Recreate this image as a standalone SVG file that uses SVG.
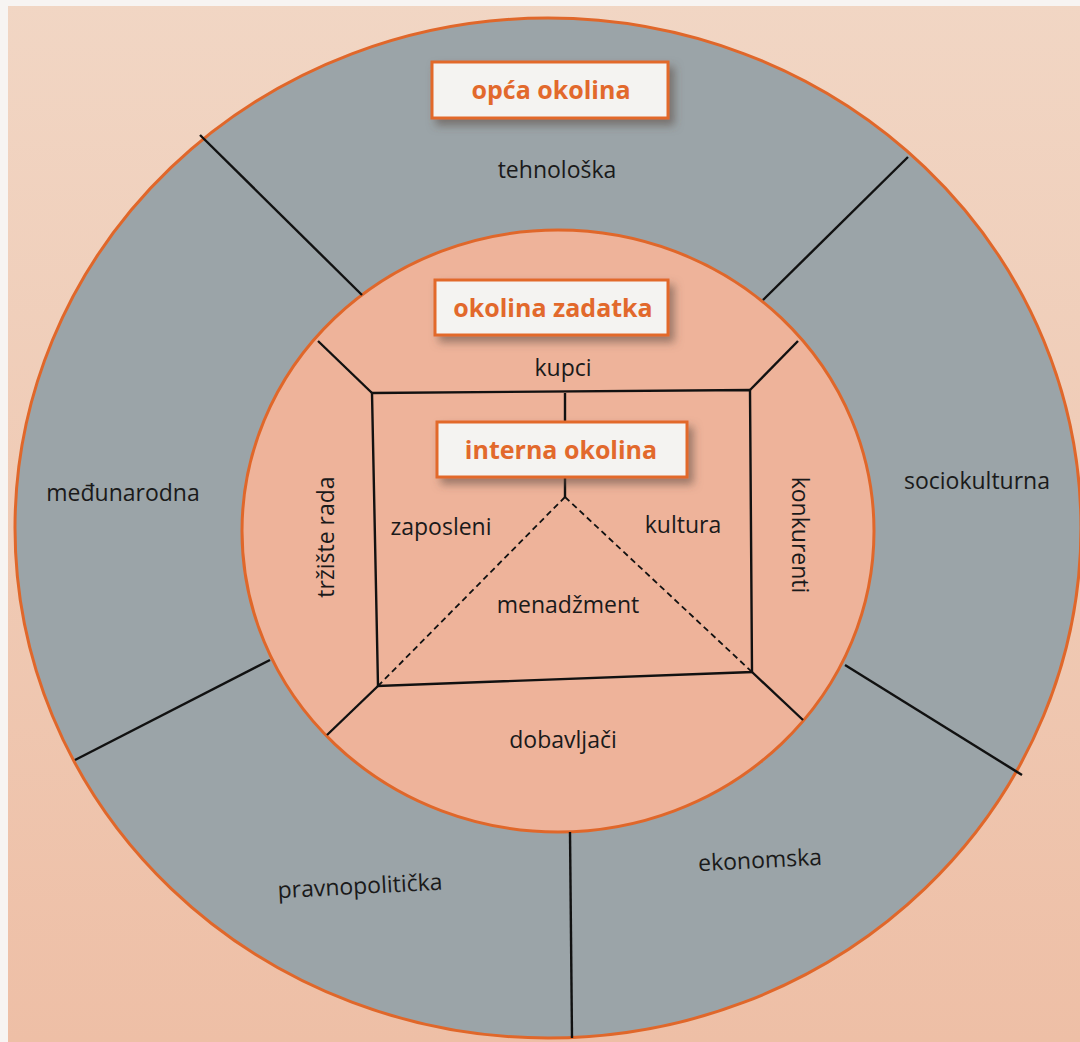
<svg xmlns="http://www.w3.org/2000/svg" width="1080" height="1042" viewBox="0 0 1080 1042">
<defs>
<filter id="sh" x="-20%" y="-30%" width="150%" height="180%">
<feDropShadow dx="5" dy="6" stdDeviation="4" flood-color="#5a4a40" flood-opacity="0.55"/>
</filter>
<linearGradient id="bg" x1="0" y1="0" x2="0" y2="1">
<stop offset="0" stop-color="#f1d6c4"/>
<stop offset="1" stop-color="#eebfa6"/>
</linearGradient>
</defs>
<style>
.ring{fill:#9ba4a8;stroke:#e0672a;stroke-width:3}
.inner{fill:#eeb39a;stroke:#e0672a;stroke-width:3}
.ln{stroke:#111;stroke-width:2.4;fill:none}
.dash{stroke:#111;stroke-width:1.8;fill:none;stroke-dasharray:6 4}
.box{fill:#f4f3f1;stroke:#e2692c;stroke-width:3;filter:url(#sh)}
.title{font-family:"Open Sans","Liberation Sans",sans-serif;font-weight:700;font-size:25px;fill:#e2692c;text-anchor:middle}
.t{font-family:"Open Sans","Liberation Sans",sans-serif;font-size:23px;fill:#1a1a1a;text-anchor:middle}
</style>
<rect x="0" y="0" width="1080" height="1042" fill="url(#bg)"/>
<rect x="0" y="0" width="1080" height="6" fill="#f7f4f2"/>
<rect x="0" y="0" width="8" height="1042" fill="#f7f4f2"/>

<g id="outer-ring"><ellipse class="ring" cx="548" cy="528" rx="533" ry="510"/></g>
<g id="inner-ring"><ellipse class="inner" cx="558" cy="531" rx="316" ry="301"/></g>

<g id="connectors">
<line class="ln" x1="200" y1="135" x2="362" y2="295"/>
<line class="ln" x1="908" y1="157" x2="763" y2="300"/>
<line class="ln" x1="845" y1="665" x2="1022" y2="775"/>
<line class="ln" x1="270" y1="660" x2="75" y2="760"/>
<line class="ln" x1="570" y1="832" x2="572" y2="1038"/>
<polygon class="ln" points="372,393 750,390 752,672 378,686"/>
<line class="ln" x1="372" y1="393" x2="318" y2="341"/>
<line class="ln" x1="750" y1="390" x2="798" y2="341"/>
<line class="ln" x1="752" y1="672" x2="803" y2="720"/>
<line class="ln" x1="378" y1="686" x2="327" y2="735"/>
<line class="ln" x1="565" y1="393" x2="565" y2="425"/>
<line class="ln" x1="565" y1="476" x2="565" y2="497"/>
<line class="dash" x1="565" y1="497" x2="378" y2="686"/>
<line class="dash" x1="565" y1="497" x2="752" y2="672"/>
</g>

<g id="opca-okolina"><rect class="box" x="432" y="62" width="236" height="56"/><text class="title" x="551" y="99">opća okolina</text></g>
<g id="okolina-zadatka"><rect class="box" x="435" y="280" width="233" height="55"/><text class="title" x="553" y="317">okolina zadatka</text></g>
<g id="interna-okolina"><rect class="box" x="437" y="422" width="250" height="55"/><text class="title" x="561" y="459">interna okolina</text></g>

<g id="tehnoloska"><text class="t" x="557" y="178">tehnološka</text></g>
<g id="medunarodna"><text class="t" x="123" y="501">međunarodna</text></g>
<g id="sociokulturna"><text class="t" x="977" y="489">sociokulturna</text></g>
<g id="pravnopoliticka"><text class="t" x="360" y="894" transform="rotate(-3 360 886)">pravnopolitička</text></g>
<g id="ekonomska"><text class="t" x="760" y="868" transform="rotate(-3 760 860)">ekonomska</text></g>
<g id="kupci"><text class="t" x="563" y="376">kupci</text></g>
<g id="dobavljaci"><text class="t" x="563" y="748">dobavljači</text></g>
<g id="trziste-rada"><text class="t" x="326" y="545" transform="rotate(-90 326 537)">tržište rada</text></g>
<g id="konkurenti"><text class="t" x="800" y="543" transform="rotate(90 800 535)">konkurenti</text></g>
<g id="zaposleni"><text class="t" x="441" y="535">zaposleni</text></g>
<g id="kultura"><text class="t" x="683" y="533">kultura</text></g>
<g id="menadzment"><text class="t" x="568" y="613">menadžment</text></g>
</svg>
